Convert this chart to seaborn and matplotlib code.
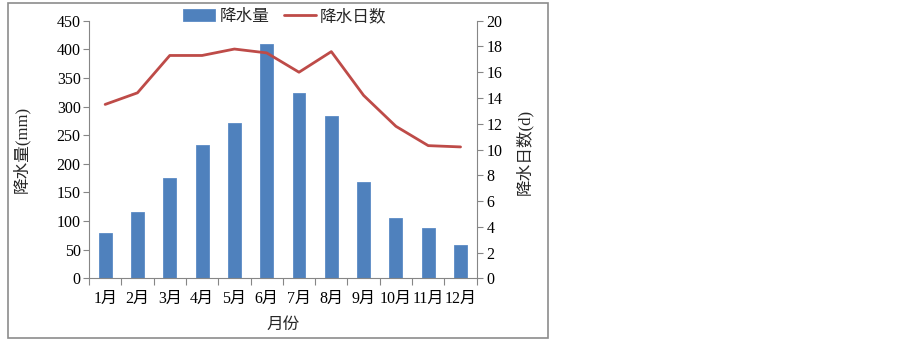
import matplotlib
matplotlib.use("Agg")
import matplotlib.pyplot as plt
import seaborn as sns
import pandas as pd
from matplotlib.patches import Rectangle
from matplotlib.ticker import FixedLocator

months = ["1月", "2月", "3月", "4月", "5月", "6月", "7月", "8月", "9月", "10月", "11月", "12月"]
rain_mm = [80, 115, 175, 232, 272, 409, 324, 283, 168, 105, 88, 58]
rain_days = [13.5, 14.4, 17.3, 17.3, 17.8, 17.5, 16.0, 17.6, 14.2, 11.8, 10.3, 10.2]

df = pd.DataFrame({"month": months, "mm": rain_mm, "days": rain_days})
df["pos"] = range(len(df))

sns.set_style("white")
plt.rcParams["font.family"] = ["Liberation Serif", "Noto Sans CJK SC", "DejaVu Sans"]
FS = 11.5
gray = "#868686"

fig = plt.figure(figsize=(9.02, 3.42), dpi=100)
ax = fig.add_axes([89 / 902, 1 - 278.3 / 342, (476.7 - 89) / 902, (278.3 - 20.7) / 342])

sns.barplot(data=df, x="month", y="mm", ax=ax, color="#4F81BD", width=0.4,
            saturation=1, edgecolor="#5B8BC6", linewidth=0.6, label="降水量")
ax.set_xlim(-0.5, 11.5)
ax.set_ylim(0, 450)
ax.set_yticks(range(0, 451, 50))
ax.set_xlabel("月份", fontsize=12)
ax.set_ylabel("降水量(mm)", fontsize=12)
ax.xaxis.set_label_coords(0.5, -0.15)
ax.yaxis.set_label_coords(-0.153, 0.5)

ax2 = ax.twinx()
sns.lineplot(data=df, x="pos", y="days", ax=ax2, color="#BE4B48", linewidth=2.0, label="降水日数")
ax2.set_ylim(0, 20)
ax2.set_yticks(range(0, 21, 2))
ax2.set_xlim(-0.5, 11.5)
ax2.set_ylabel("降水日数(d)", fontsize=12)
ax2.yaxis.set_label_coords(1.10, 0.49)
ax2.get_legend().remove()

for a in (ax, ax2):
    for s in a.spines.values():
        s.set_visible(False)
    a.tick_params(axis="both", labelsize=FS, colors="black", length=4, width=0.8)
ax.spines["left"].set_visible(True)
ax.spines["bottom"].set_visible(True)
ax2.spines["right"].set_visible(True)
for s in (ax.spines["left"], ax.spines["bottom"], ax2.spines["right"]):
    s.set_color(gray)
    s.set_linewidth(0.8)
ax.tick_params(axis="y", color=gray, length=4, direction="out", left=True, pad=2)
ax2.tick_params(axis="y", color=gray, length=4, direction="out", right=True, pad=3)
ax.tick_params(axis="x", which="major", length=0, pad=9)
ax.xaxis.set_minor_locator(FixedLocator([i - 0.5 for i in range(len(months) + 1)]))
ax.tick_params(axis="x", which="minor", length=5, color=gray, width=0.8, bottom=True)

h1, l1 = ax.get_legend_handles_labels()
h2, l2 = ax2.get_legend_handles_labels()
if ax.get_legend():
    ax.get_legend().remove()
fig.legend(h1 + h2, l1 + l2, loc="center", bbox_to_anchor=(285 / 902, 1 - 17 / 342),
           ncol=2, frameon=False, fontsize=12, handlelength=1.9, handletextpad=0.25,
           columnspacing=0.9, borderpad=0)

fig.patches.append(Rectangle((8 / 902, 1 - 338 / 342), 540 / 902, 335 / 342,
                             transform=fig.transFigure, fill=False, edgecolor="#8C8C8C",
                             linewidth=1.2))

fig.savefig("out.png", dpi=100)
